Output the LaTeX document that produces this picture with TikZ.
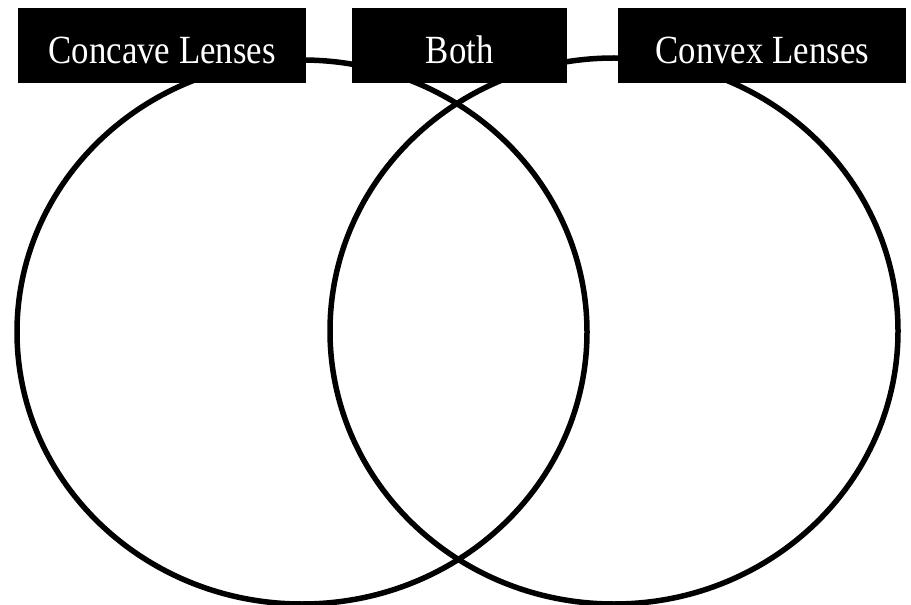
\documentclass[tikz,border=0pt]{standalone}
\usepackage{fontspec}
\setmainfont{Liberation Serif}
\begin{document}
\begin{tikzpicture}[x=1bp,y=-1bp,
  ring/.style={draw=black,line width=5.5bp},
  label/.style={fill=black,text=white,inner sep=0pt,anchor=north west,
    minimum height=75bp,text height=35bp,text depth=0bp,
    font=\fontsize{40bp}{42bp}\selectfont}]
\useasboundingbox (0,0) rectangle (911,605);
\draw[ring] (302,332) ellipse [x radius=285, y radius=272];
\draw[ring] (614,331) ellipse [x radius=284, y radius=273];
\node[label,minimum width=288bp] (concave) at (18,8) {\scalebox{0.87}[1]{Concave Lenses}};
\node[label,minimum width=215bp] (both) at (352,8) {\scalebox{0.87}[1]{Both}};
\node[label,minimum width=288bp] (convex) at (618,8) {\scalebox{0.87}[1]{Convex Lenses}};
\end{tikzpicture}
\end{document}
